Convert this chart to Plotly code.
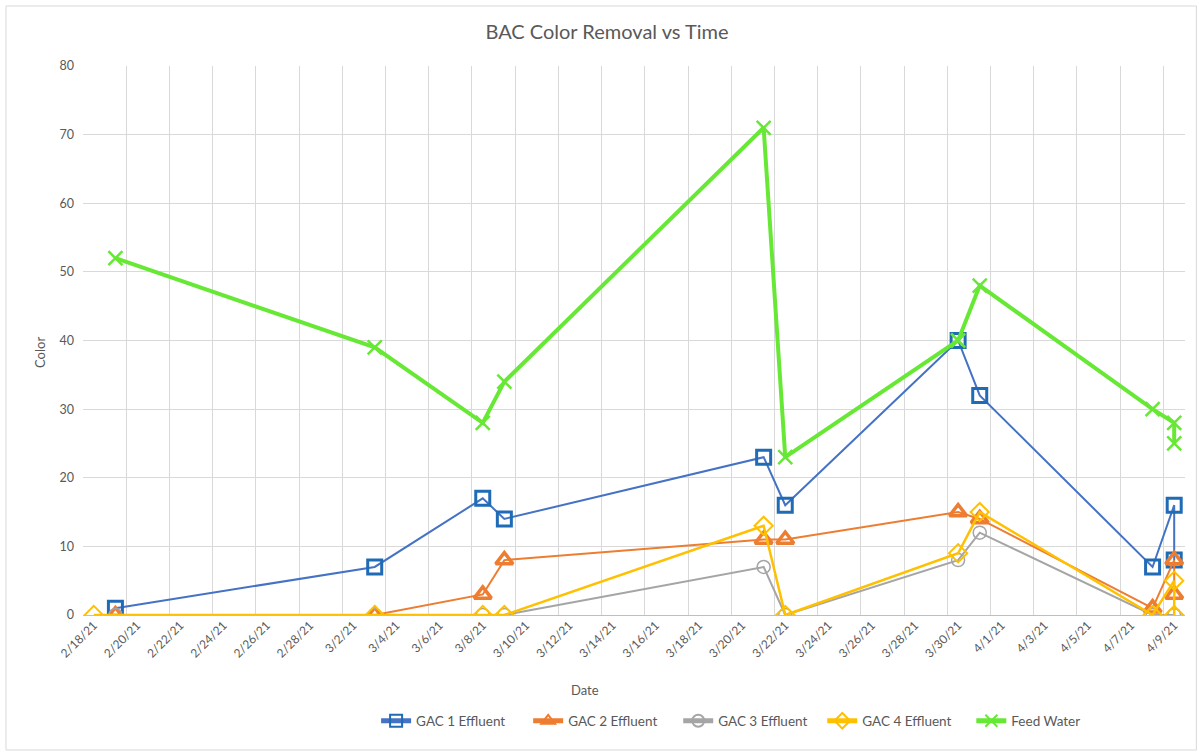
import datetime as dt
import plotly.graph_objects as go

# Sample dates and colour readings per filter
gac1_dates = ["2021-02-19", "2021-03-03", "2021-03-08", "2021-03-09", "2021-03-21",
              "2021-03-22", "2021-03-30", "2021-03-31", "2021-04-08", "2021-04-09", "2021-04-09"]
gac1_values = [1, 7, 17, 14, 23, 16, 40, 32, 7, 16, 8]

gac2_dates = ["2021-02-19", "2021-03-03", "2021-03-08", "2021-03-09", "2021-03-21",
              "2021-03-22", "2021-03-30", "2021-03-31", "2021-04-08", "2021-04-09", "2021-04-09"]
gac2_values = [0, 0, 3, 8, 11, 11, 15, 14, 1, 8, 3]

gac3_dates = ["2021-02-19", "2021-03-03", "2021-03-08", "2021-03-09", "2021-03-21",
              "2021-03-22", "2021-03-30", "2021-03-31", "2021-04-08", "2021-04-09", "2021-04-09"]
gac3_values = [0, 0, 0, 0, 7, 0, 8, 12, 0, 0, 0]

gac4_dates = ["2021-02-18", "2021-03-03", "2021-03-08", "2021-03-09", "2021-03-21",
              "2021-03-22", "2021-03-30", "2021-03-31", "2021-04-08", "2021-04-09", "2021-04-09"]
gac4_values = [0, 0, 0, 0, 13, 0, 9, 15, 0, 5, 0]

feed_dates = ["2021-02-19", "2021-03-03", "2021-03-08", "2021-03-09", "2021-03-21",
              "2021-03-22", "2021-03-30", "2021-03-31", "2021-04-08", "2021-04-09", "2021-04-09"]
feed_values = [52, 39, 28, 34, 71, 23, 40, 48, 30, 28, 25]

y_ticks = [0, 10, 20, 30, 40, 50, 60, 70, 80]

# Date labels every second day from 2/18/21 to 4/9/21
first_day = dt.date(2021, 2, 18)
tick_dates = [first_day + dt.timedelta(days=2 * i) for i in range(26)]
tick_vals = [d.isoformat() for d in tick_dates]
tick_text = [f"{d.month}/{d.day}/{d.strftime('%y')}" for d in tick_dates]

FONT = "Lato, Open Sans, sans-serif"
TXT = "#595959"
GRID = "#D9D9D9"

# plot-area geometry in pixels, used to place legends / labels in paper units
PL, PR, PT, PB = 83, 1184.6, 66, 615
PW, PH = PR - PL, PB - PT


def px_x(x):
    return (x - PL) / PW


def px_y(y):
    return (PB - y) / PH


series = [
    ("GAC 1 Effluent", gac1_dates, gac1_values,
     dict(color="#4472C4", width=2),
     dict(symbol="square-open", size=14, color="#1F6BB5", line=dict(width=3, color="#1F6BB5"))),
    ("GAC 2 Effluent", gac2_dates, gac2_values,
     dict(color="#ED7D31", width=2),
     dict(symbol="triangle-up-open", size=15, color="#ED7D31", line=dict(width=3.5, color="#ED7D31"))),
    ("GAC 3 Effluent", gac3_dates, gac3_values,
     dict(color="#A5A5A5", width=2),
     dict(symbol="circle-open", size=13, color="#A5A5A5", line=dict(width=1.5, color="#A5A5A5"))),
    ("GAC 4 Effluent", gac4_dates, gac4_values,
     dict(color="#FFC000", width=2.5),
     dict(symbol="diamond-open", size=14, color="#FFC000", line=dict(width=2, color="#FFC000"))),
    ("Feed Water", feed_dates, feed_values,
     dict(color="#66E835", width=4),
     dict(symbol="x-thin-open", size=14, color="#66E835", line=dict(width=2.5, color="#66E835"))),
]

# left edge (px) of each legend entry along the bottom row
legend_left = [376, 528, 678, 822, 971]
legend_keys = ["legend", "legend2", "legend3", "legend4", "legend5"]

fig = go.Figure()
for (name, xs, ys, ln, mk), key in zip(series, legend_keys):
    fig.add_trace(go.Scatter(x=xs, y=ys, name=name, mode="lines+markers",
                             line=ln, marker=mk, legend=key))

legend_layout = {}
for key, left in zip(legend_keys, legend_left):
    legend_layout[key] = dict(orientation="h", x=px_x(left), xanchor="left",
                              y=px_y(721), yanchor="middle", itemsizing="constant",
                              font=dict(family=FONT, size=13.5, color=TXT),
                              bgcolor="rgba(0,0,0,0)")

# Chart frame
fig.add_shape(type="rect", xref="paper", yref="paper",
              x0=px_x(6), x1=px_x(1196), y0=px_y(750), y1=px_y(6),
              line=dict(color="#D9D9D9", width=1), fillcolor="rgba(0,0,0,0)", layer="below")

fig.add_annotation(text="Date", xref="paper", yref="paper", x=px_x(585), y=px_y(690),
                   showarrow=False, font=dict(family=FONT, size=13, color=TXT),
                   xanchor="center", yanchor="middle")
fig.add_annotation(text="Color", xref="paper", yref="paper", x=px_x(40), y=px_y(352),
                   showarrow=False, textangle=-90, font=dict(family=FONT, size=13, color=TXT),
                   xanchor="center", yanchor="middle")

fig.update_layout(
    width=1199, height=754,
    margin=dict(l=PL, r=1199 - PR, t=PT, b=754 - PB),
    paper_bgcolor="white", plot_bgcolor="white",
    font=dict(family=FONT, color=TXT, size=12),
    title=dict(text="BAC Color Removal vs Time", x=607 / 1199, xref="container", xanchor="center",
               y=1 - 32 / 754, yref="container", yanchor="middle",
               font=dict(family=FONT, size=20, color=TXT)),
    showlegend=True,
    hovermode=False,
    **legend_layout,
)

fig.update_xaxes(
    type="date",
    range=["2021-02-17 12:00", "2021-04-09 12:00"],
    tickmode="array", tickvals=tick_vals, ticktext=tick_text,
    tickangle=-45, tickfont=dict(family=FONT, size=12, color=TXT),
    showgrid=False, zeroline=False, showline=False, ticks="",
    minor=dict(showgrid=True, gridcolor=GRID, gridwidth=1,
               tick0="2021-02-17 12:00", dtick=2 * 86400000, ticks=""),
)
fig.update_yaxes(
    range=[0, 80], tickmode="array", tickvals=y_ticks,
    tickfont=dict(family=FONT, size=12.5, color=TXT),
    ticklabelstandoff=8,
    showgrid=True, gridcolor=GRID, gridwidth=1,
    zeroline=True, zerolinecolor="#BFBFBF", zerolinewidth=1,
    showline=False, ticks="",
)

fig.write_html("out.html")
